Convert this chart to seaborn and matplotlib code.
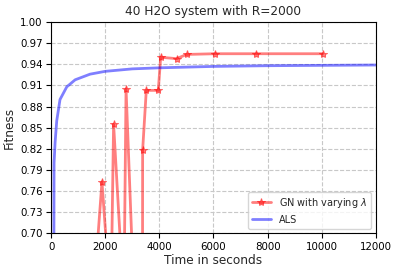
import matplotlib
matplotlib.use("Agg")
import matplotlib.pyplot as plt
import seaborn as sns
import numpy as np

gn_time = [1550, 1880, 2210, 2310, 2690, 2770, 3370, 3383, 3518, 3961, 4050, 4640, 5007, 6060, 7590, 10030]
gn_fit = [0.60, 0.773, 0.597, 0.855, 0.600, 0.905, 0.30, 0.818, 0.903, 0.903, 0.950, 0.948, 0.954, 0.955, 0.955, 0.955]

als_time = [100, 110, 150, 210, 330, 580, 890, 1440, 2000, 3000, 4000, 6000, 8000, 10000, 12000]
als_fit = [0.60, 0.80, 0.83, 0.86, 0.89, 0.908, 0.918, 0.926, 0.930, 0.9335, 0.935, 0.937, 0.938, 0.9385, 0.939]

xticks = [0, 2000, 4000, 6000, 8000, 10000, 12000]
yticks = [0.70, 0.73, 0.76, 0.79, 0.82, 0.85, 0.88, 0.91, 0.94, 0.97, 1.00]

sns.set_style("ticks")
plt.rcParams['font.family'] = ['DejaVu Sans']

fig = plt.figure(figsize=(3.99, 2.72), dpi=100)
ax = fig.add_axes([0.128, 0.142, 0.814, 0.777])

sns.lineplot(x=gn_time, y=gn_fit, ax=ax, color='red', alpha=0.5, lw=2,
             marker='*', markersize=6, markeredgecolor='red', sort=False,
             estimator=None, label=r'GN with varying $\lambda$')
sns.lineplot(x=als_time, y=als_fit, ax=ax, color='blue', alpha=0.5, lw=2,
             sort=False, estimator=None, label='ALS')

ax.set_xlim(0, 12000)
ax.set_ylim(0.70, 1.00)
ax.set_xticks(xticks)
ax.set_yticks(yticks)
ax.set_yticklabels([f"{v:.2f}" for v in yticks])
ax.tick_params(labelsize=7.4, length=3.5, width=0.8, colors='black', pad=2.5)
ax.grid(True, linestyle='--', color='#c8c8c8', lw=0.8)
for s in ax.spines.values():
    s.set_color('black')
    s.set_linewidth(0.8)
ax.set_xlabel('Time in seconds', fontsize=8.7, labelpad=2)
ax.set_ylabel('Fitness', fontsize=8.7, labelpad=3)
ax.set_title('40 H2O system with R=2000', fontsize=8.7, pad=5)
ax.legend(loc='lower right', fontsize=7, frameon=True, fancybox=True)

fig.savefig('out.png', dpi=100)
